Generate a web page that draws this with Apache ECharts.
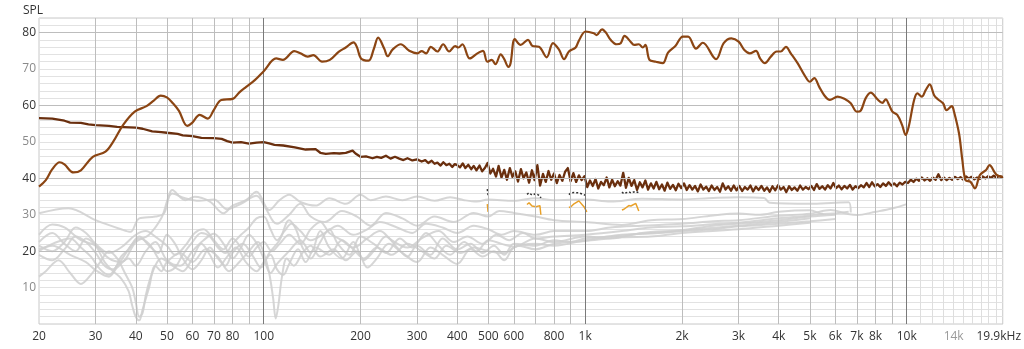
<!DOCTYPE html>
<html>
<head>
<meta charset="utf-8">
<script src="https://cdn.jsdelivr.net/npm/echarts@6/dist/echarts.min.js"></script>
<style>html,body{margin:0;padding:0;background:#fff;}#c{width:1024px;height:349px;}</style>
</head>
<body>
<div id="c"></div>
<script>
// ---------- axis ticks ----------
const xTickHz = [20,30,40,50,60,70,80,100,200,300,400,500,600,800,1000,2000,3000,4000,5000,6000,7000,8000,10000,14000,19900];
const xTickText = ['20','30','40','50','60','70','80','100','200','300','400','500','600','800','1k','2k','3k','4k','5k','6k','7k','8k','10k','14k','19.9kHz'];
const gridHzMid = [30,40,50,60,70,80,90,200,300,400,500,600,700,800,900,2000,3000,4000,5000,6000,7000,8000,9000];
const gridHzMajor = [100,1000,10000];
const gridHzLight = [11000,12000,13000,14000,15000,16000,17000,18000,19000];
const gridDbMajor = [20,40,60,80];

// ---------- measured frequency response (Hz, dB) ----------
const mainCurve = [[20,37.7],[21,39.5],[22,42.5],[23.2,44.4],[24,43.8],[25.6,41.6],[27,42.2],[29.4,45.9],[32.2,47.3],[34,50],[36.5,54.6],[39.7,58.3],[43.2,59.8],[45.5,61.3],[47.8,62.7],[50,62.2],[52.2,60.6],[54.5,58.5],[57.8,54.4],[60,55.3],[63.2,57.4],[67,56.4],[70,58.8],[73.8,61.5],[80.1,61.8],[84,63.6],[88.2,65.1],[94,67],[100,69.4],[109.3,72.9],[114.7,72.5],[124.5,74.9],[130,74.3],[137,73.4],[142.7,73.8],[151.9,72.0],[160.6,72.5],[171,74.7],[180,75.9],[190.3,77.3],[195,76],[200.7,72.9],[212,72.3],[220,75.5],[227,78.6],[237,75.6],[243,73.5],[252,75.4],[267,76.8],[283.6,75.0],[300.8,74.3],[310,74.9],[320,74.3],[331,76.1],[347,74.8],[361.6,76.8],[377.5,74.8],[394,76.3],[403,75.9],[415,76.8],[437.5,72.9],[462,74.3],[481,75.0],[496,72.0],[512,72.5],[526,71.3],[546,74.0],[560,72.7],[577,70.6],[586,71.6],[604,78.2],[630,76.6],[664,78.0],[686,76.3],[718,76.1],[759,73.2],[794,77.1],[829,75.3],[860,72.7],[890,74.8],[934,75.9],[956,77.8],[1003,80.3],[1064,79.8],[1085,79.3],[1129,80.9],[1160,80.0],[1200,78.0],[1253,76.8],[1290,77.1],[1326,79.1],[1384,77.5],[1420,76.6],[1468,76.8],[1510,75.9],[1540,76.6],[1585,72.5],[1660,72.0],[1743,71.6],[1810,74.5],[1908,76.3],[2012,78.9],[2090,78.9],[2212,75.6],[2321,77.2],[2553,72.7],[2697,77.1],[2849,78.4],[3001,77.5],[3127,75.2],[3250,74.3],[3399,75.0],[3500,72.9],[3623,71.6],[3780,73.4],[3939,74.8],[4060,74.8],[4211,76.1],[4360,74.3],[4578,71.6],[4804,68.4],[5001,66.5],[5160,67.5],[5346,65.1],[5540,62.8],[5769,61.5],[6096,62.4],[6440,61.7],[6700,60.6],[6999,58.3],[7200,58.6],[7458,62.0],[7731,63.5],[8110,61.7],[8400,60.7],[8609,61.7],[8820,60.1],[9029,58.3],[9350,57.4],[9680,54.6],[9930,51.9],[10150,54.2],[10548,61.5],[10800,63.3],[11140,62.4],[11460,64.2],[11795,65.8],[12172,62.8],[12500,61.7],[12976,60.6],[13300,58.7],[13822,59.8],[14000,58.7],[14552,52.3],[14900,45.0],[15250,39.5],[15800,39.0],[16305,37.2],[16900,40.9],[17660,42.3],[18100,43.6],[19000,41],[19900,40.4]];

// ---------- noise floor (Hz, dB) ----------
const noiseCurve = [[20,56.5],[22,56.4],[24,55.8],[25,55.3],[27,55.2],[28.5,54.8],[30,54.6],[33,54.4],[35,54.1],[40,53.9],[42,53.6],[45,52.9],[48,52.7],[50,52.5],[54,52.2],[56,51.8],[60,51.6],[64,51.1],[70,51.0],[74,50.8],[77,50.2],[80,49.8],[85,49.9],[90,49.5],[95,49.8],[100,49.9],[104,49.6],[108,49.2],[115,49.0],[125,48.5],[135,47.9],[145,48.0],[150,47.0],[156,46.7],[165,46.9],[172,46.8],[180,47.0],[189,47.6],[193,46.8],[200,45.9],[208,46.0],[218,45.5],[225,45.9],[232,45.6],[240,46.2],[248,45.4],[256,45.9],[264,45.4],[272,45.0],[280,45.5],[290,44.9],[300,45.2],[310,44.6],[318,45.0],[325,44.2],[333,44.8],[340,44.0],[347,44.3],[355,43.5],[362,44.4],[370,43.6],[378,44.0],[386,43.1],[393,43.9],
[400,43.6],[408,43.0],[416,44.1],[424,42.8],[433,43.7],[442,42.5],[450,43.4],[459,42.2],[469,43.5],[478,41.9],[488,42.9],[497,44.2],[507,41.3],[517,42.6],[528,40.5],[538,43.4],[549,40.2],[560,42.3],[571,39.6],[583,42.8],[594,40.4],[606,41.9],[618,39.1],[631,42.5],[643,40.0],[656,41.6],[669,38.8],[683,42.2],[696,39.5],[710,43.6],[724,38.0],[739,41.2],[754,39.0],[769,42.0],[784,39.6],[800,41.3],[816,38.7],[832,40.9],[849,39.3],[866,41.8],[883,42.8],[901,39.2],[919,41.4],[937,39.0],[956,40.8],[975,39.5],[995,40.6],
[1015,37.6],[1035,39.4],[1056,37.9],[1077,39.8],[1098,37.2],[1120,39.0],[1143,38.1],[1166,40.2],[1189,37.5],[1213,39.6],[1237,37.8],[1262,39.2],[1287,38.0],[1313,41.5],[1339,37.4],[1366,40.1],[1393,37.9],[1421,39.5],[1450,36.8],[1479,38.9],[1508,37.5],[1539,39.4],[1569,36.9],[1601,38.6],[1633,37.2],[1665,39.0],[1699,37.0],[1733,38.3],[1767,36.6],[1802,38.8],[1838,37.1],[1875,38.2],[1913,36.7],[1951,38.5],[1990,37.3],
[2030,38.6],[2070,36.8],[2112,38.1],[2154,36.9],[2197,37.9],[2241,36.4],[2286,38.3],[2332,36.9],[2378,37.7],[2426,36.5],[2474,38.0],[2524,36.8],[2574,37.6],[2626,36.3],[2678,38.6],[2732,36.9],[2787,37.8],[2842,36.6],[2899,38.0],[2957,36.7],[3016,37.9],[3077,36.5],[3138,37.6],[3201,36.9],[3265,38.0],[3330,36.4],[3397,37.7],[3465,36.8],[3534,37.9],[3605,36.6],[3677,37.5],[3750,36.3],[3825,37.8],[3902,36.7],[3980,38.1],
[4059,36.9],[4141,37.6],[4223,36.2],[4308,37.8],[4394,36.8],[4482,37.5],[4572,36.6],[4663,38.0],[4756,36.9],[4851,37.6],[4949,37.0],[5047,37.9],[5148,36.8],[5251,38.4],[5356,37.1],[5463,37.8],[5573,36.9],[5684,38.1],[5798,37.2],[5914,38.7],[6032,37.3],[6153,38.0],[6276,37.0],[6401,37.9],[6529,37.2],[6660,38.2],[6793,36.9],[6929,37.8],[7068,37.3],[7209,38.1],[7353,37.5],[7500,38.7],[7650,37.6],[7803,38.9],[7959,37.8],[8118,38.4],[8281,37.6],[8446,38.6],[8615,37.9],[8788,38.9],[8963,38.0],[9143,38.6],[9325,37.8],[9512,38.8],[9702,38.3],[9896,39.0],
[10094,38.7],[10296,39.6],[10502,39.0],[10712,39.9],[10926,39.3],[11145,40.2],[11368,39.4],[11595,40.0],[11827,39.3],[12063,40.2],[12305,39.6],[12551,41.1],[12802,39.5],[13058,40.2],[13319,39.5],[13585,40.1],[13857,39.6],[14134,40.4],[14417,39.8],[14705,40.3],[14999,39.6],[15299,40.5],[15605,39.9],[15917,40.4],[16236,39.7],[16561,40.2],[16892,39.8],[17230,40.5],[17574,40.0],[17926,40.6],[18284,40.1],[18650,40.7],[19023,40.2],[19403,40.6],[19791,40.3],[19900,40.5]];

// ---------- other measurements (gray) ----------
const gray1 = [[20,30.4],[24.7,31.8],[30,28.5],[36,26],[38.5,25.3],[41,29],[46,29.5],[49,30.4],[52,36.8],[57,34],[61,34.9],[68,33.6],[75,30.4],[80,32.5],[88,34],[95,36.3],[104,31.3],[112,34],[120,35.5],[130,33.5],[145,32.5],[160,34.5],[180,33],[200,35.5],[215,34],[240,35],[270,34],[300,35],[340,33.8],[380,34.8],[420,34],[460,33.6],[500,34.2],[600,33.8],[700,34.5],[800,34],[1000,34.2],[1200,33.6],[1500,34.4],[2000,34.2],[2500,34.6],[3000,34.8],[3600,34.6],[3750,33.3],[5000,33],[6000,33.3],[6600,33.4],[6700,30.6]];
const gray2 = [[20,24.5],[22,27.3],[24,26.5],[27,23],[30,21.5],[33,18],[36,17],[40,22.5],[44,24.5],[48,29],[52,35.8],[57,34.5],[63,33.8],[70,34.2],[77,31.5],[85,33],[95,35.2],[101,32],[110,27.5],[120,30],[130,33],[140,29.5],[155,28],[175,31],[195,29.5],[215,27],[240,30.5],[270,29],[300,27],[340,29.5],[390,28],[450,30.5],[500,29.5],[540,31],[600,30.5],[700,29.5],[800,28.5],[1000,28],[1300,27.2],[1600,28.5],[2000,28.8],[2500,29.8],[3000,30.3],[3500,30],[4000,30.8],[5000,31.2],[5500,30.2],[6600,30.8]];
const gray3 = [[20,20.5],[22,21.5],[25,19],[28,17],[30,14.8],[33,13],[35,15.5],[38,18],[40,16],[43,20],[46,22.5],[50,17.5],[55,16],[60,20],[65,23],[70,24.8],[75,22],[80,18],[85,21],[90,24.5],[95,22.2],[100,18],[105,14],[110,16.5],[120,20],[130,23],[140,19.5],[150,25.5],[160,21],[175,18],[190,22.5],[205,17.5],[220,20],[240,24],[260,21],[280,18.5],[300,21.5],[330,19],[360,23.5],[400,20.5],[440,22],[480,19.5],[520,21.5],[560,19],[600,22],[700,21.5],[800,23],[900,22.5],[1000,23.5],[1200,24],[1500,24.8],[2000,25.5],[2500,26],[3000,26.8],[4000,27.5],[5000,28.2],[6000,28.8]];
const gray4 = [[20,19],[22,17.5],[24,20.5],[26,24],[28,22.5],[30,19.5],[32,16],[34,15],[36,18.5],[38,20.5],[41,24],[44,21.5],[47,19.5],[50,24.5],[53,22],[56,18],[60,15],[64,17.5],[68,21],[72,18],[76,16],[80,19.5],[86,22],[92,19],[98,15.5],[104,19.5],[112,23],[120,28.5],[126,26],[132,21],[140,18],[150,22.5],[160,26],[170,22],[185,19],[200,24],[220,22],[240,19.5],[265,23.5],[290,21],[320,25],[350,21.5],[380,19],[420,22.5],[460,20],[500,23],[550,22],[600,21.2],[700,23.5],[800,22.5],[1000,24],[1200,23.5],[1500,25],[2000,25.8],[2500,27],[3000,27.5],[4000,28.5],[5000,29.5],[6000,30]];
const gray5 = [[20,13],[21,14.5],[23,17.5],[25,14],[27,11],[29,13.5],[31,17],[33,20],[35,18],[37,14],[39,10],[40,6],[41,2],[42,3],[43,8],[45,14],[48,18],[52,16],[56,14.5],[60,18],[64,22],[68,19],[72,15.5],[77,18.5],[82,21],[88,17],[95,14.5],[100,17],[105,19],[110,15],[115,13.5],[120,16.5],[128,20.5],[135,17],[145,21],[160,19],[175,23],[190,20.5],[205,18],[225,21],[250,19],[280,22],[310,20],[340,18],[370,21.5],[410,19.5],[450,21],[500,20],[560,19.5],[620,21.5],[700,20.5],[800,22],[1000,22.8],[1300,23.8],[1600,24],[2000,25],[3000,26],[4000,27],[5000,27.8]];
const gray6 = [[20,22.5],[22,25],[24,22],[26,20],[28,23.5],[30,21.5],[32,17],[34,14.5],[36,12.5],[38,9],[39,5],[40,2],[41,1],[42,4],[44,10],[46,16],[48,14.5],[50,17],[55,19.5],[60,17],[66,20.5],[72,18.5],[78,14.5],[84,17],[90,20],[96,22.5],[100,19.5],[104,14],[107,7],[109,1.5],[111,5],[114,13],[118,18],[124,16],[132,19.5],[140,21.5],[150,18.5],[165,20.5],[180,17.5],[195,20],[210,15.5],[225,18],[245,22],[270,19.5],[300,17],[330,21],[360,19],[400,16.5],[440,20.5],[480,18.5],[520,20],[560,17.5],[600,21],[700,22],[800,21.5],[1000,23],[1300,24.5],[1700,25],[2200,26],[3000,27],[4000,28],[5000,29]];
const gray7 = [[20,20],[22,22],[25,23.5],[27,21],[29,18.5],[31,15],[33,13.5],[35,16],[37,19],[39,22],[41,23.5],[44,22],[47,18],[50,14.5],[53,15.5],[56,19],[60,22.5],[64,25],[68,24],[72,21],[76,19.5],[80,22],[85,24.5],[90,26.5],[95,29],[100,29.5],[105,26],[110,23],[116,25.5],[122,27.5],[130,25.5],[140,23],[155,25],[170,27],[190,24.5],[210,26],[230,28],[260,26.5],[290,25],[320,27.5],[360,26.5],[400,25],[450,27],[500,26],[550,24.5],[600,25.5],[700,24.5],[800,25.5],[1000,25.5],[1200,26.5],[1500,27],[2000,27.5],[2500,28.2],[3000,28.5],[4000,29.7],[5000,30.3],[5800,31.3],[6500,30.3],[7000,29.9],[8000,30.8],[9000,31.7],[10000,32.9]];
const gray8 = [[20,21.5],[22,20],[24,22.5],[26,26.5],[28,25],[30,22],[33,19.5],[36,21],[40,24.5],[43,25.5],[46,24],[50,21.5],[53,19],[57,21.5],[61,25],[65,26],[70,23],[75,20.5],[80,23.5],[85,21],[90,18.5],[95,21],[100,22.5],[106,20],[112,22],[120,24.5],[130,22],[140,26],[150,28],[160,25],[175,23],[190,21],[210,23.5],[230,25.5],[250,23],[280,21],[310,23.5],[350,25.5],[390,22.5],[430,24],[480,22],[530,24.5],[580,23],[640,25],[700,23.5],[800,24],[1000,24.5],[1300,25.5],[1600,26.5],[2000,26.8],[2600,27.5],[3000,27.8],[4000,29],[5000,29.8],[5500,30.3]];
const grayCurves = [gray1, gray2, gray3, gray4, gray5, gray6, gray7, gray8];

// ---------- highlighted fragments (null = gap) ----------
const blackFrag = [[496,37],[499,35.2],null,[659,35.6],[669,36],[683,35.4],[703,35.8],[723,35.2],[728,34.6],null,[890,35.5],[903,36],[923,36.1],[956,36],[991,35.5],[1012,35.2],null,[1301,36.2],[1320,35.8],[1367,36.3],[1387,36],[1437,36.4],[1468,36]];
const orangeFrag = [[496,32.9],[499,30.8],null,[659,32.8],[669,33.3],[683,32.4],[703,32.2],[723,32.5],[728,30],null,[890,32],[903,32.2],[923,33],[956,33.8],[991,32.2],[1012,30.8],null,[1301,31.3],[1320,31.5],[1367,32.5],[1387,32.4],[1437,33.1],[1468,31]];

const chart = echarts.init(document.getElementById('c'), null, {renderer: 'canvas'});

function vLines(list, color) {
  return list.map(v => ({xAxis: v, lineStyle: {color: color, width: 1, type: 'solid'}}));
}
function hLines(list, color) {
  return list.map(v => ({yAxis: v, lineStyle: {color: color, width: 1, type: 'solid'}}));
}
function gapData(arr) {
  return arr.map(p => p === null ? ['-', '-'] : p);
}
function tickIndex(v) {
  let best = 0, bd = Infinity;
  xTickHz.forEach((t, i) => { const d = Math.abs(Math.log(v) - Math.log(t)); if (d < bd) { bd = d; best = i; } });
  return best;
}

const FONT = '"Open Sans", "Noto Sans", sans-serif';

const series = [];
series.push({
  name: 'grid', type: 'line', data: [], z: 1, silent: true,
  markLine: {
    silent: true, symbol: ['none', 'none'], label: {show: false}, animation: false,
    emphasis: {disabled: true},
    data: [].concat(vLines(gridHzLight, '#dedede'), vLines(gridHzMid, '#bdbdbd'), hLines(gridDbMajor, '#bdbdbd'), vLines(gridHzMajor, '#7a7a7a'))
  }
});
grayCurves.forEach((g, i) => {
  series.push({
    name: 'gray' + (i + 1), type: 'line', data: g, z: 2, smooth: 0.35, showSymbol: false, silent: true,
    lineStyle: {color: '#cfcfcf', width: 2, opacity: 0.85}
  });
});
series.push({
  name: 'black', type: 'line', data: gapData(blackFrag), z: 3, showSymbol: false, silent: true, connectNulls: false,
  lineStyle: {color: '#333333', width: 1.5, type: [2, 2]}
});
series.push({
  name: 'orange', type: 'line', data: gapData(orangeFrag), z: 3, showSymbol: false, silent: true, connectNulls: false,
  lineStyle: {color: '#e8a028', width: 1.5}
});
series.push({
  name: 'noise', type: 'line', data: noiseCurve, z: 4, showSymbol: false, silent: true,
  lineStyle: {color: '#6a2f0e', width: 2.3, join: 'round'}
});
series.push({
  name: 'main', type: 'line', data: mainCurve, z: 5, smooth: 0.35, showSymbol: false, silent: true,
  lineStyle: {color: '#8b4513', width: 2.2}
});

chart.setOption({
  animation: false,
  backgroundColor: '#ffffff',
  title: {text: 'SPL', left: 18, top: 0, textStyle: {fontSize: 12, fontWeight: 'normal', color: '#333', fontFamily: FONT}},
  grid: {left: 39, right: 20, top: 18, bottom: 25, show: true, borderColor: '#c8c8c8', borderWidth: 1, backgroundColor: 'transparent', containLabel: false},
  xAxis: {
    type: 'log', logBase: 10, min: 20, max: 19900,
    axisLine: {show: false}, axisTick: {show: false}, splitLine: {show: false}, minorSplitLine: {show: false},
    axisLabel: {
      customValues: xTickHz, margin: 7, fontSize: 12, fontFamily: FONT,
      formatter: function (v) { const i = tickIndex(v); return i === xTickHz.length - 1 ? '{r|' + xTickText[i] + '}' : xTickText[i]; },
      color: function (v) { return xTickText[tickIndex(v)] === '14k' ? '#9a9a9a' : '#333'; },
      rich: {r: {fontSize: 12, fontFamily: FONT, color: '#333', padding: [0, 8, 0, 0]}}
    }
  },
  yAxis: {
    type: 'value', min: 0, max: 84, interval: 2,
    axisLine: {show: false}, axisTick: {show: false},
    splitLine: {show: true, lineStyle: {color: '#e2e2e2', width: 1}},
    axisLabel: {
      margin: 3, fontSize: 12, fontFamily: FONT,
      formatter: function (v) { return (v > 0 && v <= 80 && v % 10 === 0) ? String(v) : ''; },
      color: function (v) { return (v % 20 === 0) ? '#333' : '#8a8a8a'; }
    }
  },
  series: series
});
</script>
</body>
</html>
